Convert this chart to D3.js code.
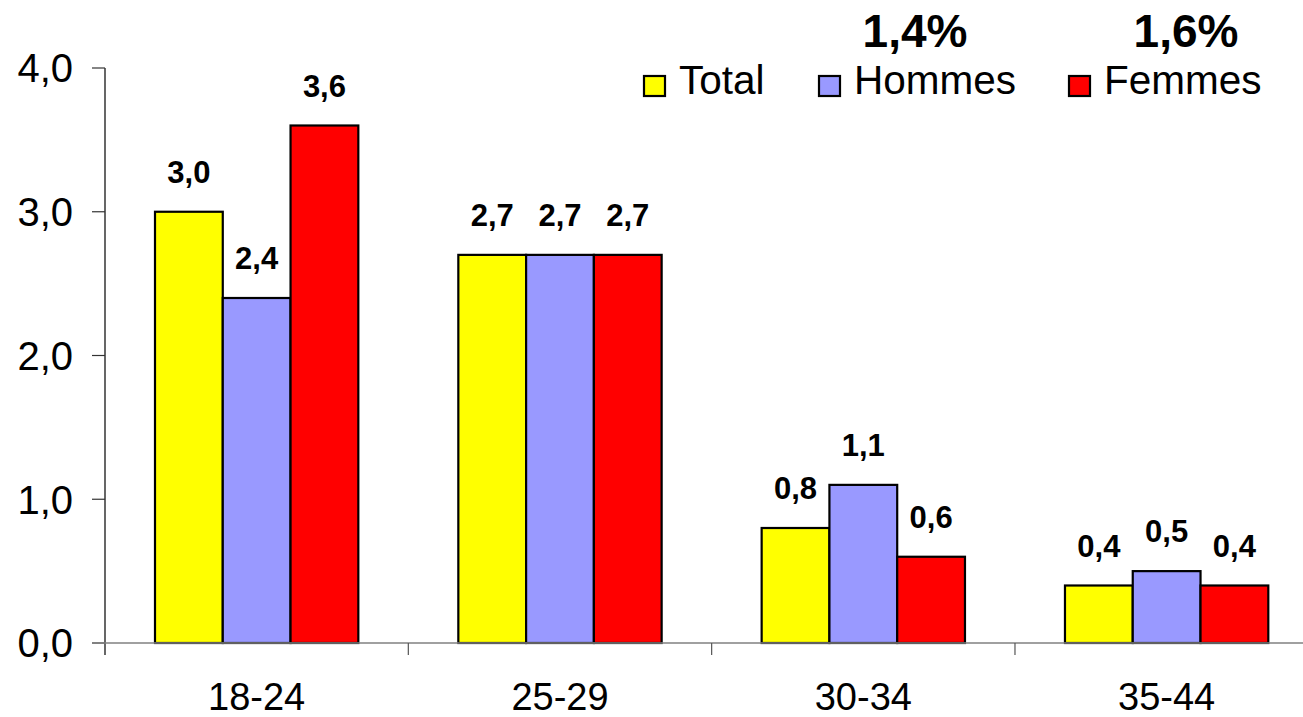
<!DOCTYPE html>
<html>
<head>
<meta charset="utf-8">
<script src="https://cdn.jsdelivr.net/npm/d3@7"></script>
<style>
  html, body { margin: 0; padding: 0; background: #fff; }
  svg { display: block; font-family: "Liberation Sans", Arial, sans-serif; }
</style>
</head>
<body>
<svg id="chart" width="1303" height="717"></svg>
<script>
// Age groups along the x axis
const categories = ["18-24", "25-29", "30-34", "35-44"];
// Series names and their values per age group
const seriesNames = ["Total", "Hommes", "Femmes"];
const totalValues = [3.0, 2.7, 0.8, 0.4];
const hommesValues = [2.4, 2.7, 1.1, 0.5];
const femmesValues = [3.6, 2.7, 0.6, 0.4];
// Overall rates shown above the legend
const overallNames = ["Hommes", "Femmes"];
const overallRates = ["1,4%", "1,6%"];
// Y axis ticks
const yTicks = [0, 1, 2, 3, 4];

const colors = { "Total": "#FFFF00", "Hommes": "#9999FF", "Femmes": "#FF0000" };
const seriesValues = { "Total": totalValues, "Hommes": hommesValues, "Femmes": femmesValues };

const fmt = v => d3.format(".1f")(v).replace(".", ",");

const svg = d3.select("#chart");

const x0 = d3.scaleBand().domain(categories).range([105, 1318.3]).paddingInner(0).paddingOuter(0);
const x1 = d3.scaleBand().domain(seriesNames).range([50, x0.bandwidth() - 50]).padding(0);
const y = d3.scaleLinear().domain([0, 4]).range([643, 68]);

// Y axis line and ticks
svg.append("line")
  .attr("x1", 105).attr("x2", 105)
  .attr("y1", y(4)).attr("y2", 655)
  .attr("stroke", "#000").attr("stroke-width", 1.2);

const yg = svg.append("g");
yg.selectAll("line.tick").data(yTicks).join("line")
  .attr("x1", 92).attr("x2", 105)
  .attr("y1", d => y(d)).attr("y2", d => y(d))
  .attr("stroke", "#333").attr("stroke-width", 1.2);
yg.selectAll("text").data(yTicks).join("text")
  .attr("x", 73).attr("y", d => y(d))
  .attr("dy", "0.36em")
  .attr("text-anchor", "end")
  .attr("font-size", 40)
  .attr("fill", "#000")
  .text(d => fmt(d));

// Bars
const groups = svg.append("g").selectAll("g").data(categories).join("g")
  .attr("transform", d => `translate(${x0(d)},0)`);

groups.selectAll("rect")
  .data((c, i) => seriesNames.map(s => ({ s, v: seriesValues[s][i] })))
  .join("rect")
  .attr("x", d => x1(d.s))
  .attr("width", x1.bandwidth())
  .attr("y", d => y(d.v))
  .attr("height", d => y(0) - y(d.v))
  .attr("fill", d => colors[d.s])
  .attr("stroke", "#000")
  .attr("stroke-width", 2.2);

// Value labels above bars
groups.selectAll("text")
  .data((c, i) => seriesNames.map(s => ({ s, v: seriesValues[s][i] })))
  .join("text")
  .attr("x", d => x1(d.s) + x1.bandwidth() / 2)
  .attr("y", d => y(d.v) - 29)
  .attr("text-anchor", "middle")
  .attr("font-size", 31)
  .attr("font-weight", "bold")
  .attr("fill", "#000")
  .text(d => fmt(d.v));

// X axis line and ticks
svg.append("line")
  .attr("x1", 92).attr("x2", 1318)
  .attr("y1", y(0)).attr("y2", y(0))
  .attr("stroke", "#808080").attr("stroke-width", 1.5);

const xTickPos = categories.slice(1).map(c => x0(c));
svg.append("g").selectAll("line").data(xTickPos).join("line")
  .attr("x1", d => d).attr("x2", d => d)
  .attr("y1", y(0)).attr("y2", 655)
  .attr("stroke", "#555").attr("stroke-width", 1.2);

svg.append("g").selectAll("text").data(categories).join("text")
  .attr("x", d => x0(d) + x0.bandwidth() / 2)
  .attr("y", 710)
  .attr("text-anchor", "middle")
  .attr("font-size", 38)
  .attr("fill", "#000")
  .text(d => d);

// Legend
const legendX = { "Total": 643, "Hommes": 818, "Femmes": 1068 };
const legend = svg.append("g").selectAll("g").data(seriesNames).join("g")
  .attr("transform", d => `translate(${legendX[d]},0)`);
legend.append("rect")
  .attr("x", 1).attr("y", 76)
  .attr("width", 21).attr("height", 20)
  .attr("fill", d => colors[d])
  .attr("stroke", "#000").attr("stroke-width", 2.2);
legend.append("text")
  .attr("x", 36).attr("y", 94)
  .attr("font-size", 40.5)
  .attr("fill", "#000")
  .text(d => d);

// Overall rates above the legend
const rateX = { "Hommes": 915, "Femmes": 1186 };
svg.append("g").selectAll("text").data(overallNames).join("text")
  .attr("x", d => rateX[d])
  .attr("y", 47)
  .attr("text-anchor", "middle")
  .attr("font-size", 46)
  .attr("font-weight", "bold")
  .attr("fill", "#000")
  .text((d, i) => overallRates[i]);
</script>
</body>
</html>
